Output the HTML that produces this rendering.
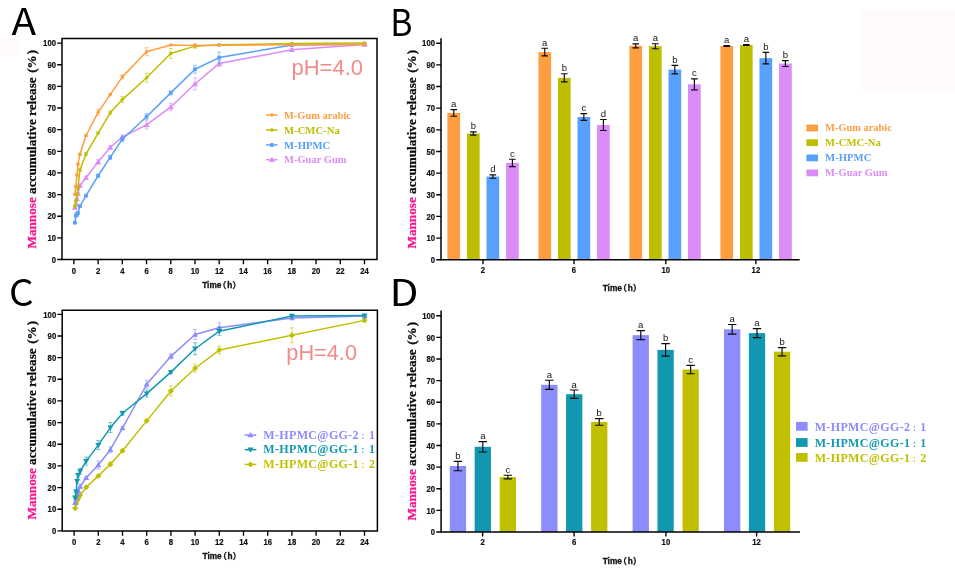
<!DOCTYPE html>
<html lang="en"><head><meta charset="utf-8"><title>Mannose accumulative release</title>
<style>html,body{margin:0;padding:0;background:#fff}body{width:955px;height:573px;overflow:hidden}svg{display:block}</style>
</head><body>
<svg width="955" height="573" viewBox="0 0 955 573">
<rect width="955" height="573" fill="#fff"/>
<rect x="0" y="35" width="21.4" height="21" fill="#fffbfc"/>
<rect x="859.7" y="10" width="95.3" height="80.2" fill="#fffbfc"/>
<g font-family="Noto Sans CJK SC, Liberation Sans, sans-serif" font-size="37" fill="#000">
<text transform="translate(11.4,35.2) scale(1.096,1)">A</text>
<text transform="translate(390.3,35.5) scale(0.915,1)">B</text>
<text transform="translate(9.1,306) scale(1.04,1)">C</text>
<text transform="translate(389.5,305.5) scale(1.14,1)">D</text>
</g>
<path d="M74.9 206.56V208.56M72.9 206.56h4M72.9 208.56h4M75.92 203.32V205.32M73.92 203.32h4M73.92 205.32h4M76.93 197.91V199.91M74.93 197.91h4M74.93 199.91h4M77.93 192.5V194.5M75.93 192.5h4M75.93 194.5h4M79.95 184.49V186.49M77.95 184.49h4M77.95 186.49h4M86.01 176.2V179.2M84.01 176.2h4M84.01 179.2h4M98.12 159.4V164.4M96.12 159.4h4M96.12 164.4h4M110.22 145.4V149.4M108.22 145.4h4M108.22 149.4h4M122.33 135.02V139.02M120.33 135.02h4M120.33 139.02h4M146.55 120.9V128.9M144.55 120.9h4M144.55 128.9h4M170.76 103.44V110.44M168.76 103.44h4M168.76 110.44h4M194.98 78V90M192.98 78h4M192.98 90h4M219.2 60.44V66.44M217.2 60.44h4M217.2 66.44h4M291.84 48.81V50.81M289.84 48.81h4M289.84 50.81h4M364.49 44.11V45.11M362.49 44.11h4M362.49 45.11h4" stroke="#dc8cf7" stroke-width="0.7" fill="none" opacity="0.85"/>
<polyline points="74.9,207.56 75.92,204.32 76.93,198.91 77.93,193.5 79.95,185.49 86.01,177.7 98.12,161.9 110.22,147.4 122.33,137.02 146.55,124.9 170.76,106.94 194.98,84 219.2,63.44 291.84,49.81 364.49,44.61" fill="none" stroke="#dc8cf7" stroke-width="1.5" stroke-linejoin="round"/>
<path d="M74.9 204.56L77.9 209.76H71.9Z" fill="#dc8cf7"/><path d="M75.92 201.32L78.92 206.52H72.92Z" fill="#dc8cf7"/><path d="M76.93 195.91L79.93 201.11H73.93Z" fill="#dc8cf7"/><path d="M77.93 190.5L80.93 195.7H74.93Z" fill="#dc8cf7"/><path d="M79.95 182.49L82.95 187.69H76.95Z" fill="#dc8cf7"/><path d="M86.01 174.7L89.01 179.9H83.01Z" fill="#dc8cf7"/><path d="M98.12 158.9L101.12 164.1H95.12Z" fill="#dc8cf7"/><path d="M110.22 144.4L113.22 149.6H107.22Z" fill="#dc8cf7"/><path d="M122.33 134.02L125.33 139.22H119.33Z" fill="#dc8cf7"/><path d="M146.55 121.9L149.55 127.1H143.55Z" fill="#dc8cf7"/><path d="M170.76 103.94L173.76 109.14H167.76Z" fill="#dc8cf7"/><path d="M194.98 81L197.98 86.2H191.98Z" fill="#dc8cf7"/><path d="M219.2 60.44L222.2 65.64H216.2Z" fill="#dc8cf7"/><path d="M291.84 46.81L294.84 52.01H288.84Z" fill="#dc8cf7"/><path d="M364.49 41.61L367.49 46.81H361.49Z" fill="#dc8cf7"/>
<path d="M74.9 222.21V223.21M72.9 222.21h4M72.9 223.21h4M75.92 214.57V216.57M73.92 214.57h4M73.92 216.57h4M76.93 212.99V215.99M74.93 212.99h4M74.93 215.99h4M77.93 211.97V213.97M75.93 211.97h4M75.93 213.97h4M79.95 205.05V207.05M77.95 205.05h4M77.95 207.05h4M86.01 194.66V196.66M84.01 194.66h4M84.01 196.66h4M98.12 174.25V177.25M96.12 174.25h4M96.12 177.25h4M110.22 155.36V159.36M108.22 155.36h4M108.22 159.36h4M122.33 136.68V141.68M120.33 136.68h4M120.33 141.68h4M146.55 113.68V119.68M144.55 113.68h4M144.55 119.68h4M170.76 90.87V94.87M168.76 90.87h4M168.76 94.87h4M194.98 65.28V73.28M192.98 65.28h4M192.98 73.28h4M219.2 52.1V63.1M217.2 52.1h4M217.2 63.1h4M291.84 44.05V46.05M289.84 44.05h4M289.84 46.05h4M364.49 43.68V44.68M362.49 43.68h4M362.49 44.68h4" stroke="#57a0fb" stroke-width="0.7" fill="none" opacity="0.85"/>
<polyline points="74.9,222.71 75.92,215.57 76.93,214.49 77.93,212.97 79.95,206.05 86.01,195.66 98.12,175.75 110.22,157.36 122.33,139.18 146.55,116.68 170.76,92.87 194.98,69.28 219.2,57.6 291.84,45.05 364.49,44.18" fill="none" stroke="#57a0fb" stroke-width="1.5" stroke-linejoin="round"/>
<rect x="73.05" y="220.86" width="3.7" height="3.7" fill="#57a0fb"/><rect x="74.07" y="213.72" width="3.7" height="3.7" fill="#57a0fb"/><rect x="75.08" y="212.64" width="3.7" height="3.7" fill="#57a0fb"/><rect x="76.08" y="211.12" width="3.7" height="3.7" fill="#57a0fb"/><rect x="78.1" y="204.2" width="3.7" height="3.7" fill="#57a0fb"/><rect x="84.16" y="193.81" width="3.7" height="3.7" fill="#57a0fb"/><rect x="96.27" y="173.9" width="3.7" height="3.7" fill="#57a0fb"/><rect x="108.37" y="155.51" width="3.7" height="3.7" fill="#57a0fb"/><rect x="120.48" y="137.33" width="3.7" height="3.7" fill="#57a0fb"/><rect x="144.7" y="114.83" width="3.7" height="3.7" fill="#57a0fb"/><rect x="168.91" y="91.02" width="3.7" height="3.7" fill="#57a0fb"/><rect x="193.13" y="67.43" width="3.7" height="3.7" fill="#57a0fb"/><rect x="217.35" y="55.75" width="3.7" height="3.7" fill="#57a0fb"/><rect x="289.99" y="43.2" width="3.7" height="3.7" fill="#57a0fb"/><rect x="362.64" y="42.33" width="3.7" height="3.7" fill="#57a0fb"/>
<path d="M74.9 205.98V206.98M72.9 205.98h4M72.9 206.98h4M75.92 200.07V202.07M73.92 200.07h4M73.92 202.07h4M76.93 193.58V195.58M74.93 193.58h4M74.93 195.58h4M77.93 187.09V189.09M75.93 187.09h4M75.93 189.09h4M79.95 168.19V171.19M77.95 168.19h4M77.95 171.19h4M86.01 152.61V155.61M84.01 152.61h4M84.01 155.61h4M98.12 132.12V134.12M96.12 132.12h4M96.12 134.12h4M110.22 110.78V114.78M108.22 110.78h4M108.22 114.78h4M122.33 96.58V102.58M120.33 96.58h4M120.33 102.58h4M146.55 73.32V82.12M144.55 73.32h4M144.55 82.12h4M170.76 48.49V58.49M168.76 48.49h4M168.76 58.49h4M194.98 44.13V48.13M192.98 44.13h4M192.98 48.13h4M219.2 44.33V45.33M217.2 44.33h4M217.2 45.33h4M291.84 43.03V44.03M289.84 43.03h4M289.84 44.03h4M364.49 42.6V43.6M362.49 42.6h4M362.49 43.6h4" stroke="#bebe00" stroke-width="0.7" fill="none" opacity="0.85"/>
<polyline points="74.9,206.48 75.92,201.07 76.93,194.58 77.93,188.09 79.95,169.69 86.01,154.11 98.12,133.12 110.22,112.78 122.33,99.58 146.55,77.72 170.76,53.49 194.98,46.13 219.2,44.83 291.84,43.53 364.49,43.1" fill="none" stroke="#bebe00" stroke-width="1.5" stroke-linejoin="round"/>
<circle cx="74.9" cy="206.48" r="1.75" fill="#bebe00"/><circle cx="75.92" cy="201.07" r="1.75" fill="#bebe00"/><circle cx="76.93" cy="194.58" r="1.75" fill="#bebe00"/><circle cx="77.93" cy="188.09" r="1.75" fill="#bebe00"/><circle cx="79.95" cy="169.69" r="1.75" fill="#bebe00"/><circle cx="86.01" cy="154.11" r="1.75" fill="#bebe00"/><circle cx="98.12" cy="133.12" r="1.75" fill="#bebe00"/><circle cx="110.22" cy="112.78" r="1.75" fill="#bebe00"/><circle cx="122.33" cy="99.58" r="1.75" fill="#bebe00"/><circle cx="146.55" cy="77.72" r="1.75" fill="#bebe00"/><circle cx="170.76" cy="53.49" r="1.75" fill="#bebe00"/><circle cx="194.98" cy="46.13" r="1.75" fill="#bebe00"/><circle cx="219.2" cy="44.83" r="1.75" fill="#bebe00"/><circle cx="291.84" cy="43.53" r="1.75" fill="#bebe00"/><circle cx="364.49" cy="43.1" r="1.75" fill="#bebe00"/>
<path d="M74.9 193.65V194.65M72.9 193.65h4M72.9 194.65h4M75.92 185.36V187.36M73.92 185.36h4M73.92 187.36h4M76.93 174.1V176.1M74.93 174.1h4M74.93 176.1h4M77.93 163.07V165.07M75.93 163.07h4M75.93 165.07h4M79.95 153.33V155.33M77.95 153.33h4M77.95 155.33h4M86.01 134.5V136.5M84.01 134.5h4M84.01 136.5h4M98.12 109.35V115.35M96.12 109.35h4M96.12 115.35h4M110.22 93.6V95.6M108.22 93.6h4M108.22 95.6h4M122.33 74.86V78.86M120.33 74.86h4M120.33 78.86h4M146.55 47.76V55.76M144.55 47.76h4M144.55 55.76h4M170.76 44.55V45.55M168.76 44.55h4M168.76 45.55h4M194.98 43.98V46.98M192.98 43.98h4M192.98 46.98h4M219.2 44.76V45.76M217.2 44.76h4M217.2 45.76h4M291.84 44.33V45.33M289.84 44.33h4M289.84 45.33h4M364.49 43.9V44.9M362.49 43.9h4M362.49 44.9h4" stroke="#fd9f41" stroke-width="0.7" fill="none" opacity="0.85"/>
<polyline points="74.9,194.15 75.92,186.36 76.93,175.1 77.93,164.07 79.95,154.33 86.01,135.5 98.12,112.35 110.22,94.6 122.33,76.86 146.55,51.76 170.76,45.05 194.98,45.48 219.2,45.26 291.84,44.83 364.49,44.4" fill="none" stroke="#fd9f41" stroke-width="1.5" stroke-linejoin="round"/>
<circle cx="74.9" cy="194.15" r="1.75" fill="#fd9f41"/><circle cx="75.92" cy="186.36" r="1.75" fill="#fd9f41"/><circle cx="76.93" cy="175.1" r="1.75" fill="#fd9f41"/><circle cx="77.93" cy="164.07" r="1.75" fill="#fd9f41"/><circle cx="79.95" cy="154.33" r="1.75" fill="#fd9f41"/><circle cx="86.01" cy="135.5" r="1.75" fill="#fd9f41"/><circle cx="98.12" cy="112.35" r="1.75" fill="#fd9f41"/><circle cx="110.22" cy="94.6" r="1.75" fill="#fd9f41"/><circle cx="122.33" cy="76.86" r="1.75" fill="#fd9f41"/><circle cx="146.55" cy="51.76" r="1.75" fill="#fd9f41"/><circle cx="170.76" cy="45.05" r="1.75" fill="#fd9f41"/><circle cx="194.98" cy="45.48" r="1.75" fill="#fd9f41"/><circle cx="219.2" cy="45.26" r="1.75" fill="#fd9f41"/><circle cx="291.84" cy="44.83" r="1.75" fill="#fd9f41"/><circle cx="364.49" cy="44.4" r="1.75" fill="#fd9f41"/>
<path d="M62 259.5V38.6H377V259.5Z" fill="none" stroke="#000" stroke-width="1.5"/>
<path d="M57.2 259.5H62M57.2 237.86H62M57.2 216.22H62M57.2 194.58H62M57.2 172.94H62M57.2 151.3H62M57.2 129.66H62M57.2 108.02H62M57.2 86.38H62M57.2 64.74H62M57.2 43.1H62M73.9 259.5v4.8M98.12 259.5v4.8M122.33 259.5v4.8M146.55 259.5v4.8M170.76 259.5v4.8M194.98 259.5v4.8M219.2 259.5v4.8M243.41 259.5v4.8M267.63 259.5v4.8M291.84 259.5v4.8M316.06 259.5v4.8M340.28 259.5v4.8M364.49 259.5v4.8" stroke="#000" stroke-width="1.35" fill="none"/>
<g font-family="Liberation Sans, Arial, sans-serif" font-weight="bold" font-size="8.3" fill="#111" stroke="#111" stroke-width="0.2">
<text x="56" y="262.7" text-anchor="end" textLength="4.29" lengthAdjust="spacingAndGlyphs">0</text>
<text x="56" y="241.06" text-anchor="end" textLength="8.58" lengthAdjust="spacingAndGlyphs">10</text>
<text x="56" y="219.42" text-anchor="end" textLength="8.58" lengthAdjust="spacingAndGlyphs">20</text>
<text x="56" y="197.78" text-anchor="end" textLength="8.58" lengthAdjust="spacingAndGlyphs">30</text>
<text x="56" y="176.14" text-anchor="end" textLength="8.58" lengthAdjust="spacingAndGlyphs">40</text>
<text x="56" y="154.5" text-anchor="end" textLength="8.58" lengthAdjust="spacingAndGlyphs">50</text>
<text x="56" y="132.86" text-anchor="end" textLength="8.58" lengthAdjust="spacingAndGlyphs">60</text>
<text x="56" y="111.22" text-anchor="end" textLength="8.58" lengthAdjust="spacingAndGlyphs">70</text>
<text x="56" y="89.58" text-anchor="end" textLength="8.58" lengthAdjust="spacingAndGlyphs">80</text>
<text x="56" y="67.94" text-anchor="end" textLength="8.58" lengthAdjust="spacingAndGlyphs">90</text>
<text x="56" y="46.3" text-anchor="end" textLength="12.88" lengthAdjust="spacingAndGlyphs">100</text>
<text x="73.9" y="273.8" text-anchor="middle" textLength="4.29" lengthAdjust="spacingAndGlyphs">0</text>
<text x="98.12" y="273.8" text-anchor="middle" textLength="4.29" lengthAdjust="spacingAndGlyphs">2</text>
<text x="122.33" y="273.8" text-anchor="middle" textLength="4.29" lengthAdjust="spacingAndGlyphs">4</text>
<text x="146.55" y="273.8" text-anchor="middle" textLength="4.29" lengthAdjust="spacingAndGlyphs">6</text>
<text x="170.76" y="273.8" text-anchor="middle" textLength="4.29" lengthAdjust="spacingAndGlyphs">8</text>
<text x="194.98" y="273.8" text-anchor="middle" textLength="8.58" lengthAdjust="spacingAndGlyphs">10</text>
<text x="219.2" y="273.8" text-anchor="middle" textLength="8.58" lengthAdjust="spacingAndGlyphs">12</text>
<text x="243.41" y="273.8" text-anchor="middle" textLength="8.58" lengthAdjust="spacingAndGlyphs">14</text>
<text x="267.63" y="273.8" text-anchor="middle" textLength="8.58" lengthAdjust="spacingAndGlyphs">16</text>
<text x="291.84" y="273.8" text-anchor="middle" textLength="8.58" lengthAdjust="spacingAndGlyphs">18</text>
<text x="316.06" y="273.8" text-anchor="middle" textLength="8.58" lengthAdjust="spacingAndGlyphs">20</text>
<text x="340.28" y="273.8" text-anchor="middle" textLength="8.58" lengthAdjust="spacingAndGlyphs">22</text>
<text x="364.49" y="273.8" text-anchor="middle" textLength="8.58" lengthAdjust="spacingAndGlyphs">24</text>
</g>
<text y="287.9" font-family="Liberation Sans, Noto Sans CJK SC, sans-serif" font-weight="bold" font-size="8.3" fill="#111" stroke="#111" stroke-width="0.3"><tspan x="202.2">Time</tspan><tspan x="218.1">（</tspan><tspan x="227.2">h</tspan><tspan x="232.4">）</tspan></text>
<text x="291.5" y="74.9" font-family="Liberation Sans, Arial, sans-serif" font-size="21.6" textLength="71.5" lengthAdjust="spacingAndGlyphs" fill="#f48a8a">pH=4.0</text>
<text transform="translate(36,248.5) rotate(-90)" font-family="Liberation Serif, Times New Roman, serif" font-weight="bold" font-size="13.2" fill="#0a0a0a" stroke="#0a0a0a" stroke-width="0.25"><tspan fill="#fa1590" stroke="#fa1590">Mannose</tspan> accumulative release <tspan dx="1.2">(%</tspan><tspan dx="-2.4"> )</tspan></text>
<path d="M266.1 115.1H277.6" stroke="#fd9f41" stroke-width="1.5"/><circle cx="271.9" cy="115.1" r="1.75" fill="#fd9f41"/>
<text x="284" y="119.1" font-family="Liberation Serif, Times New Roman, serif" font-weight="bold" font-size="10.4" textLength="67" lengthAdjust="spacingAndGlyphs" fill="#fd9f41">M-Gum arabic</text>
<path d="M266.1 130H277.6" stroke="#bebe00" stroke-width="1.5"/><circle cx="271.9" cy="130" r="1.75" fill="#bebe00"/>
<text x="284" y="133.7" font-family="Liberation Serif, Times New Roman, serif" font-weight="bold" font-size="10.4" textLength="55.8" lengthAdjust="spacingAndGlyphs" fill="#bebe00">M-CMC-Na</text>
<path d="M266.1 145H277.6" stroke="#57a0fb" stroke-width="1.5"/><rect x="270.05" y="143.15" width="3.7" height="3.7" fill="#57a0fb"/>
<text x="284" y="148.5" font-family="Liberation Serif, Times New Roman, serif" font-weight="bold" font-size="10.4" textLength="46.3" lengthAdjust="spacingAndGlyphs" fill="#57a0fb">M-HPMC</text>
<path d="M266.1 159.7H277.6" stroke="#dc8cf7" stroke-width="1.5"/><path d="M271.9 156.7L274.9 161.9H268.9Z" fill="#dc8cf7"/>
<text x="284" y="163.1" font-family="Liberation Serif, Times New Roman, serif" font-weight="bold" font-size="10.4" textLength="62.5" lengthAdjust="spacingAndGlyphs" fill="#dc8cf7">M-Guar Gum</text>
<rect x="447.4" y="112.91" width="12.7" height="146.79" fill="#fd9f41"/>
<path d="M453.75 109.61V116.21M450.45 109.61h6.6M450.45 116.21h6.6" stroke="#0a0a0a" stroke-width="1.15" fill="none"/>
<text x="453.75" y="107.21" font-family="Liberation Sans, Arial, sans-serif" font-size="9.5" text-anchor="middle" fill="#111">a</text>
<rect x="466.95" y="133.48" width="12.7" height="126.22" fill="#bebe00"/>
<path d="M473.3 131.88V135.08M470 131.88h6.6M470 135.08h6.6" stroke="#0a0a0a" stroke-width="1.15" fill="none"/>
<text x="473.3" y="129.48" font-family="Liberation Sans, Arial, sans-serif" font-size="9.5" text-anchor="middle" fill="#111">b</text>
<rect x="486.5" y="176.56" width="12.7" height="83.14" fill="#57a0fb"/>
<path d="M492.85 174.86V178.26M489.55 174.86h6.6M489.55 178.26h6.6" stroke="#0a0a0a" stroke-width="1.15" fill="none"/>
<text x="492.85" y="172.46" font-family="Liberation Sans, Arial, sans-serif" font-size="9.5" text-anchor="middle" fill="#111">d</text>
<rect x="506.05" y="162.92" width="12.7" height="96.78" fill="#dc8cf7"/>
<path d="M512.4 159.22V166.62M509.1 159.22h6.6M509.1 166.62h6.6" stroke="#0a0a0a" stroke-width="1.15" fill="none"/>
<text x="512.4" y="156.82" font-family="Liberation Sans, Arial, sans-serif" font-size="9.5" text-anchor="middle" fill="#111">c</text>
<rect x="538.4" y="52.08" width="12.7" height="207.62" fill="#fd9f41"/>
<path d="M544.75 48.28V55.88M541.45 48.28h6.6M541.45 55.88h6.6" stroke="#0a0a0a" stroke-width="1.15" fill="none"/>
<text x="544.75" y="45.88" font-family="Liberation Sans, Arial, sans-serif" font-size="9.5" text-anchor="middle" fill="#111">a</text>
<rect x="557.95" y="77.84" width="12.7" height="181.86" fill="#bebe00"/>
<path d="M564.3 73.74V81.94M561 73.74h6.6M561 81.94h6.6" stroke="#0a0a0a" stroke-width="1.15" fill="none"/>
<text x="564.3" y="71.34" font-family="Liberation Sans, Arial, sans-serif" font-size="9.5" text-anchor="middle" fill="#111">b</text>
<rect x="577.5" y="117.03" width="12.7" height="142.67" fill="#57a0fb"/>
<path d="M583.85 113.63V120.43M580.55 113.63h6.6M580.55 120.43h6.6" stroke="#0a0a0a" stroke-width="1.15" fill="none"/>
<text x="583.85" y="111.23" font-family="Liberation Sans, Arial, sans-serif" font-size="9.5" text-anchor="middle" fill="#111">c</text>
<rect x="597.05" y="125.04" width="12.7" height="134.66" fill="#dc8cf7"/>
<path d="M603.4 119.54V130.54M600.1 119.54h6.6M600.1 130.54h6.6" stroke="#0a0a0a" stroke-width="1.15" fill="none"/>
<text x="603.4" y="117.14" font-family="Liberation Sans, Arial, sans-serif" font-size="9.5" text-anchor="middle" fill="#111">d</text>
<rect x="629.4" y="45.8" width="12.7" height="213.9" fill="#fd9f41"/>
<path d="M635.75 43.8V47.8M632.45 43.8h6.6M632.45 47.8h6.6" stroke="#0a0a0a" stroke-width="1.15" fill="none"/>
<text x="635.75" y="41.4" font-family="Liberation Sans, Arial, sans-serif" font-size="9.5" text-anchor="middle" fill="#111">a</text>
<rect x="648.95" y="46.23" width="12.7" height="213.47" fill="#bebe00"/>
<path d="M655.3 43.73V48.73M652 43.73h6.6M652 48.73h6.6" stroke="#0a0a0a" stroke-width="1.15" fill="none"/>
<text x="655.3" y="41.33" font-family="Liberation Sans, Arial, sans-serif" font-size="9.5" text-anchor="middle" fill="#111">a</text>
<rect x="668.5" y="69.61" width="12.7" height="190.09" fill="#57a0fb"/>
<path d="M674.85 65.41V73.81M671.55 65.41h6.6M671.55 73.81h6.6" stroke="#0a0a0a" stroke-width="1.15" fill="none"/>
<text x="674.85" y="63.01" font-family="Liberation Sans, Arial, sans-serif" font-size="9.5" text-anchor="middle" fill="#111">b</text>
<rect x="688.05" y="84.33" width="12.7" height="175.37" fill="#dc8cf7"/>
<path d="M694.4 78.83V89.83M691.1 78.83h6.6M691.1 89.83h6.6" stroke="#0a0a0a" stroke-width="1.15" fill="none"/>
<text x="694.4" y="76.43" font-family="Liberation Sans, Arial, sans-serif" font-size="9.5" text-anchor="middle" fill="#111">c</text>
<rect x="720.4" y="46.01" width="12.7" height="213.69" fill="#fd9f41"/>
<path d="M726.75 45.51V46.51M723.45 45.51h6.6M723.45 46.51h6.6" stroke="#0a0a0a" stroke-width="1.15" fill="none"/>
<text x="726.75" y="43.11" font-family="Liberation Sans, Arial, sans-serif" font-size="9.5" text-anchor="middle" fill="#111">a</text>
<rect x="739.95" y="44.93" width="12.7" height="214.77" fill="#bebe00"/>
<path d="M746.3 44.53V45.33M743 44.53h6.6M743 45.33h6.6" stroke="#0a0a0a" stroke-width="1.15" fill="none"/>
<text x="746.3" y="42.13" font-family="Liberation Sans, Arial, sans-serif" font-size="9.5" text-anchor="middle" fill="#111">a</text>
<rect x="759.5" y="58.14" width="12.7" height="201.56" fill="#57a0fb"/>
<path d="M765.85 52.34V63.94M762.55 52.34h6.6M762.55 63.94h6.6" stroke="#0a0a0a" stroke-width="1.15" fill="none"/>
<text x="765.85" y="49.94" font-family="Liberation Sans, Arial, sans-serif" font-size="9.5" text-anchor="middle" fill="#111">b</text>
<rect x="779.05" y="63.55" width="12.7" height="196.15" fill="#dc8cf7"/>
<path d="M785.4 60.65V66.45M782.1 60.65h6.6M782.1 66.45h6.6" stroke="#0a0a0a" stroke-width="1.15" fill="none"/>
<text x="785.4" y="58.25" font-family="Liberation Sans, Arial, sans-serif" font-size="9.5" text-anchor="middle" fill="#111">b</text>
<path d="M441 38.2V259.7H799.7" fill="none" stroke="#000" stroke-width="1.5"/>
<path d="M436.2 259.7H441M436.2 238.05H441M436.2 216.4H441M436.2 194.75H441M436.2 173.1H441M436.2 151.45H441M436.2 129.8H441M436.2 108.15H441M436.2 86.5H441M436.2 64.85H441M436.2 43.2H441M483 259.7v4.6M574 259.7v4.6M665.8 259.7v4.6M755.9 259.7v4.6" stroke="#000" stroke-width="1.35" fill="none"/>
<g font-family="Liberation Sans, Arial, sans-serif" font-weight="bold" font-size="8.3" fill="#111" stroke="#111" stroke-width="0.2">
<text x="435" y="262.9" text-anchor="end" textLength="4.29" lengthAdjust="spacingAndGlyphs">0</text>
<text x="435" y="241.25" text-anchor="end" textLength="8.58" lengthAdjust="spacingAndGlyphs">10</text>
<text x="435" y="219.6" text-anchor="end" textLength="8.58" lengthAdjust="spacingAndGlyphs">20</text>
<text x="435" y="197.95" text-anchor="end" textLength="8.58" lengthAdjust="spacingAndGlyphs">30</text>
<text x="435" y="176.3" text-anchor="end" textLength="8.58" lengthAdjust="spacingAndGlyphs">40</text>
<text x="435" y="154.65" text-anchor="end" textLength="8.58" lengthAdjust="spacingAndGlyphs">50</text>
<text x="435" y="133" text-anchor="end" textLength="8.58" lengthAdjust="spacingAndGlyphs">60</text>
<text x="435" y="111.35" text-anchor="end" textLength="8.58" lengthAdjust="spacingAndGlyphs">70</text>
<text x="435" y="89.7" text-anchor="end" textLength="8.58" lengthAdjust="spacingAndGlyphs">80</text>
<text x="435" y="68.05" text-anchor="end" textLength="8.58" lengthAdjust="spacingAndGlyphs">90</text>
<text x="435" y="46.4" text-anchor="end" textLength="12.88" lengthAdjust="spacingAndGlyphs">100</text>
<text x="483" y="273.2" text-anchor="middle" textLength="4.29" lengthAdjust="spacingAndGlyphs">2</text>
<text x="574" y="273.2" text-anchor="middle" textLength="4.29" lengthAdjust="spacingAndGlyphs">6</text>
<text x="665.8" y="273.2" text-anchor="middle" textLength="8.58" lengthAdjust="spacingAndGlyphs">10</text>
<text x="755.9" y="273.2" text-anchor="middle" textLength="8.58" lengthAdjust="spacingAndGlyphs">12</text>
</g>
<text y="290.5" font-family="Liberation Sans, Noto Sans CJK SC, sans-serif" font-weight="bold" font-size="8.3" fill="#111" stroke="#111" stroke-width="0.3"><tspan x="602.7">Time</tspan><tspan x="618.6">（</tspan><tspan x="627.7">h</tspan><tspan x="632.9">）</tspan></text>
<text transform="translate(416,248.5) rotate(-90)" font-family="Liberation Serif, Times New Roman, serif" font-weight="bold" font-size="13.2" fill="#0a0a0a" stroke="#0a0a0a" stroke-width="0.25"><tspan fill="#fa1590" stroke="#fa1590">Mannose</tspan> accumulative release <tspan dx="1.2">(%</tspan><tspan dx="-2.4"> )</tspan></text>
<rect x="806.4" y="124.6" width="11.6" height="6.8" fill="#fd9f41"/>
<text x="825.1" y="131.4" font-family="Liberation Serif, Times New Roman, serif" font-weight="bold" font-size="10.4" textLength="66.8" lengthAdjust="spacingAndGlyphs" fill="#fd9f41">M-Gum arabic</text>
<rect x="806.4" y="139.3" width="11.6" height="6.8" fill="#bebe00"/>
<text x="825.1" y="146.2" font-family="Liberation Serif, Times New Roman, serif" font-weight="bold" font-size="10.4" textLength="55.8" lengthAdjust="spacingAndGlyphs" fill="#bebe00">M-CMC-Na</text>
<rect x="806.4" y="154.5" width="11.6" height="6.8" fill="#57a0fb"/>
<text x="825.1" y="161.3" font-family="Liberation Serif, Times New Roman, serif" font-weight="bold" font-size="10.4" textLength="46.3" lengthAdjust="spacingAndGlyphs" fill="#57a0fb">M-HPMC</text>
<rect x="806.4" y="169.5" width="11.6" height="6.8" fill="#dc8cf7"/>
<text x="825.1" y="176.3" font-family="Liberation Serif, Times New Roman, serif" font-weight="bold" font-size="10.4" textLength="62.5" lengthAdjust="spacingAndGlyphs" fill="#dc8cf7">M-Guar Gum</text>
<path d="M75.1 507.66V508.66M73.1 507.66h4M73.1 508.66h4M76.12 503.32V504.32M74.12 503.32h4M74.12 504.32h4M77.12 499.58V501.58M75.12 499.58h4M75.12 501.58h4M78.13 497.41V499.41M76.13 497.41h4M76.13 499.41h4M80.15 494.16V496.16M78.15 494.16h4M78.15 496.16h4M86.2 486.36V488.36M84.2 486.36h4M84.2 488.36h4M98.3 474.88V476.88M96.3 474.88h4M96.3 476.88h4M110.4 462.19V466.19M108.4 462.19h4M108.4 466.19h4M122.5 449.26V452.26M120.5 449.26h4M120.5 452.26h4M146.7 419.37V422.37M144.7 419.37h4M144.7 422.37h4M170.9 385.98V395.98M168.9 385.98h4M168.9 395.98h4M195.1 364.23V372.23M193.1 364.23h4M193.1 372.23h4M219.3 346.04V354.04M217.3 346.04h4M217.3 354.04h4M291.9 327.81V342.81M289.9 327.81h4M289.9 342.81h4M364.5 318.86V321.86M362.5 318.86h4M362.5 321.86h4" stroke="#c0c000" stroke-width="0.7" fill="none" opacity="0.85"/>
<polyline points="75.1,508.16 76.12,503.82 77.12,500.58 78.13,498.41 80.15,495.16 86.2,487.36 98.3,475.88 110.4,464.19 122.5,450.76 146.7,420.87 170.9,390.98 195.1,368.23 219.3,350.04 291.9,335.31 364.5,320.36" fill="none" stroke="#c0c000" stroke-width="1.5" stroke-linejoin="round"/>
<path d="M75.1 505.16L78.1 508.16L75.1 511.16L72.1 508.16Z" fill="#c0c000"/><path d="M76.12 500.82L79.12 503.82L76.12 506.82L73.12 503.82Z" fill="#c0c000"/><path d="M77.12 497.58L80.12 500.58L77.12 503.58L74.12 500.58Z" fill="#c0c000"/><path d="M78.13 495.41L81.13 498.41L78.13 501.41L75.13 498.41Z" fill="#c0c000"/><path d="M80.15 492.16L83.15 495.16L80.15 498.16L77.15 495.16Z" fill="#c0c000"/><path d="M86.2 484.36L89.2 487.36L86.2 490.36L83.2 487.36Z" fill="#c0c000"/><path d="M98.3 472.88L101.3 475.88L98.3 478.88L95.3 475.88Z" fill="#c0c000"/><path d="M110.4 461.19L113.4 464.19L110.4 467.19L107.4 464.19Z" fill="#c0c000"/><path d="M122.5 447.76L125.5 450.76L122.5 453.76L119.5 450.76Z" fill="#c0c000"/><path d="M146.7 417.87L149.7 420.87L146.7 423.87L143.7 420.87Z" fill="#c0c000"/><path d="M170.9 387.98L173.9 390.98L170.9 393.98L167.9 390.98Z" fill="#c0c000"/><path d="M195.1 365.23L198.1 368.23L195.1 371.23L192.1 368.23Z" fill="#c0c000"/><path d="M219.3 347.04L222.3 350.04L219.3 353.04L216.3 350.04Z" fill="#c0c000"/><path d="M291.9 332.31L294.9 335.31L291.9 338.31L288.9 335.31Z" fill="#c0c000"/><path d="M364.5 317.36L367.5 320.36L364.5 323.36L361.5 320.36Z" fill="#c0c000"/>
<path d="M75.1 502.24V503.24M73.1 502.24h4M73.1 503.24h4M76.12 497.41V499.41M74.12 497.41h4M74.12 499.41h4M77.12 493.08V495.08M75.12 493.08h4M75.12 495.08h4M78.13 489.83V491.83M76.13 489.83h4M76.13 491.83h4M80.15 485V488M78.15 485h4M78.15 488h4M86.2 476.33V479.33M84.2 476.33h4M84.2 479.33h4M98.3 461.05V469.05M96.3 461.05h4M96.3 469.05h4M110.4 446.67V452.67M108.4 446.67h4M108.4 452.67h4M122.5 426.51V429.51M120.5 426.51h4M120.5 429.51h4M146.7 380.26V388.26M144.7 380.26h4M144.7 388.26h4M170.9 353.82V358.82M168.9 353.82h4M168.9 358.82h4M195.1 329.44V339.44M193.1 329.44h4M193.1 339.44h4M219.3 322.73V332.73M217.3 322.73h4M217.3 332.73h4M291.9 316.98V318.98M289.9 316.98h4M289.9 318.98h4M364.5 315.53V316.53M362.5 315.53h4M362.5 316.53h4" stroke="#8c8cfc" stroke-width="0.7" fill="none" opacity="0.85"/>
<polyline points="75.1,502.74 76.12,498.41 77.12,494.08 78.13,490.83 80.15,486.5 86.2,477.83 98.3,465.05 110.4,449.67 122.5,428.01 146.7,384.26 170.9,356.32 195.1,334.44 219.3,327.73 291.9,317.98 364.5,316.03" fill="none" stroke="#8c8cfc" stroke-width="1.5" stroke-linejoin="round"/>
<path d="M75.1 499.74L78.1 504.94H72.1Z" fill="#8c8cfc"/><path d="M76.12 495.41L79.12 500.61H73.12Z" fill="#8c8cfc"/><path d="M77.12 491.08L80.12 496.28H74.12Z" fill="#8c8cfc"/><path d="M78.13 487.83L81.13 493.03H75.13Z" fill="#8c8cfc"/><path d="M80.15 483.5L83.15 488.7H77.15Z" fill="#8c8cfc"/><path d="M86.2 474.83L89.2 480.03H83.2Z" fill="#8c8cfc"/><path d="M98.3 462.05L101.3 467.25H95.3Z" fill="#8c8cfc"/><path d="M110.4 446.67L113.4 451.87H107.4Z" fill="#8c8cfc"/><path d="M122.5 425.01L125.5 430.21H119.5Z" fill="#8c8cfc"/><path d="M146.7 381.26L149.7 386.46H143.7Z" fill="#8c8cfc"/><path d="M170.9 353.32L173.9 358.52H167.9Z" fill="#8c8cfc"/><path d="M195.1 331.44L198.1 336.64H192.1Z" fill="#8c8cfc"/><path d="M219.3 324.73L222.3 329.93H216.3Z" fill="#8c8cfc"/><path d="M291.9 314.98L294.9 320.18H288.9Z" fill="#8c8cfc"/><path d="M364.5 313.03L367.5 318.23H361.5Z" fill="#8c8cfc"/>
<path d="M75.1 497.26V498.26M73.1 497.26h4M73.1 498.26h4M76.12 490.7V492.7M74.12 490.7h4M74.12 492.7h4M77.12 479.3V483.3M75.12 479.3h4M75.12 483.3h4M78.13 473.23V477.23M76.13 473.23h4M76.13 477.23h4M80.15 468.33V474.33M78.15 468.33h4M78.15 474.33h4M86.2 457.15V465.15M84.2 457.15h4M84.2 465.15h4M98.3 440.63V449.63M96.3 440.63h4M96.3 449.63h4M110.4 422.58V432.58M108.4 422.58h4M108.4 432.58h4M122.5 411.29V415.29M120.5 411.29h4M120.5 415.29h4M146.7 390.08V397.08M144.7 390.08h4M144.7 397.08h4M170.9 370.63V373.63M168.9 370.63h4M168.9 373.63h4M195.1 342.74V354.74M193.1 342.74h4M193.1 354.74h4M219.3 327.19V335.19M217.3 327.19h4M217.3 335.19h4M291.9 315.03V317.03M289.9 315.03h4M289.9 317.03h4M364.5 314.6V316.6M362.5 314.6h4M362.5 316.6h4" stroke="#1198b0" stroke-width="0.7" fill="none" opacity="0.85"/>
<polyline points="75.1,497.76 76.12,491.7 77.12,481.3 78.13,475.23 80.15,471.33 86.2,461.15 98.3,445.13 110.4,427.58 122.5,413.29 146.7,393.58 170.9,372.13 195.1,348.74 219.3,331.19 291.9,316.03 364.5,315.6" fill="none" stroke="#1198b0" stroke-width="1.5" stroke-linejoin="round"/>
<path d="M75.1 500.76L78.1 495.56H72.1Z" fill="#1198b0"/><path d="M76.12 494.7L79.12 489.5H73.12Z" fill="#1198b0"/><path d="M77.12 484.3L80.12 479.1H74.12Z" fill="#1198b0"/><path d="M78.13 478.23L81.13 473.03H75.13Z" fill="#1198b0"/><path d="M80.15 474.33L83.15 469.13H77.15Z" fill="#1198b0"/><path d="M86.2 464.15L89.2 458.95H83.2Z" fill="#1198b0"/><path d="M98.3 448.13L101.3 442.93H95.3Z" fill="#1198b0"/><path d="M110.4 430.58L113.4 425.38H107.4Z" fill="#1198b0"/><path d="M122.5 416.29L125.5 411.09H119.5Z" fill="#1198b0"/><path d="M146.7 396.58L149.7 391.38H143.7Z" fill="#1198b0"/><path d="M170.9 375.13L173.9 369.93H167.9Z" fill="#1198b0"/><path d="M195.1 351.74L198.1 346.54H192.1Z" fill="#1198b0"/><path d="M219.3 334.19L222.3 328.99H216.3Z" fill="#1198b0"/><path d="M291.9 319.03L294.9 313.83H288.9Z" fill="#1198b0"/><path d="M364.5 318.6L367.5 313.4H361.5Z" fill="#1198b0"/>
<path d="M62.2 530.9V310.2H377.4V530.9Z" fill="none" stroke="#000" stroke-width="1.5"/>
<path d="M57.4 530.9H62.2M57.4 509.24H62.2M57.4 487.58H62.2M57.4 465.92H62.2M57.4 444.26H62.2M57.4 422.6H62.2M57.4 400.94H62.2M57.4 379.28H62.2M57.4 357.62H62.2M57.4 335.96H62.2M57.4 314.3H62.2M74.1 530.9v4.8M98.3 530.9v4.8M122.5 530.9v4.8M146.7 530.9v4.8M170.9 530.9v4.8M195.1 530.9v4.8M219.3 530.9v4.8M243.5 530.9v4.8M267.7 530.9v4.8M291.9 530.9v4.8M316.1 530.9v4.8M340.3 530.9v4.8M364.5 530.9v4.8" stroke="#000" stroke-width="1.35" fill="none"/>
<g font-family="Liberation Sans, Arial, sans-serif" font-weight="bold" font-size="8.3" fill="#111" stroke="#111" stroke-width="0.2">
<text x="56.2" y="534.1" text-anchor="end" textLength="4.29" lengthAdjust="spacingAndGlyphs">0</text>
<text x="56.2" y="512.44" text-anchor="end" textLength="8.58" lengthAdjust="spacingAndGlyphs">10</text>
<text x="56.2" y="490.78" text-anchor="end" textLength="8.58" lengthAdjust="spacingAndGlyphs">20</text>
<text x="56.2" y="469.12" text-anchor="end" textLength="8.58" lengthAdjust="spacingAndGlyphs">30</text>
<text x="56.2" y="447.46" text-anchor="end" textLength="8.58" lengthAdjust="spacingAndGlyphs">40</text>
<text x="56.2" y="425.8" text-anchor="end" textLength="8.58" lengthAdjust="spacingAndGlyphs">50</text>
<text x="56.2" y="404.14" text-anchor="end" textLength="8.58" lengthAdjust="spacingAndGlyphs">60</text>
<text x="56.2" y="382.48" text-anchor="end" textLength="8.58" lengthAdjust="spacingAndGlyphs">70</text>
<text x="56.2" y="360.82" text-anchor="end" textLength="8.58" lengthAdjust="spacingAndGlyphs">80</text>
<text x="56.2" y="339.16" text-anchor="end" textLength="8.58" lengthAdjust="spacingAndGlyphs">90</text>
<text x="56.2" y="317.5" text-anchor="end" textLength="12.88" lengthAdjust="spacingAndGlyphs">100</text>
<text x="74.1" y="545.1" text-anchor="middle" textLength="4.29" lengthAdjust="spacingAndGlyphs">0</text>
<text x="98.3" y="545.1" text-anchor="middle" textLength="4.29" lengthAdjust="spacingAndGlyphs">2</text>
<text x="122.5" y="545.1" text-anchor="middle" textLength="4.29" lengthAdjust="spacingAndGlyphs">4</text>
<text x="146.7" y="545.1" text-anchor="middle" textLength="4.29" lengthAdjust="spacingAndGlyphs">6</text>
<text x="170.9" y="545.1" text-anchor="middle" textLength="4.29" lengthAdjust="spacingAndGlyphs">8</text>
<text x="195.1" y="545.1" text-anchor="middle" textLength="8.58" lengthAdjust="spacingAndGlyphs">10</text>
<text x="219.3" y="545.1" text-anchor="middle" textLength="8.58" lengthAdjust="spacingAndGlyphs">12</text>
<text x="243.5" y="545.1" text-anchor="middle" textLength="8.58" lengthAdjust="spacingAndGlyphs">14</text>
<text x="267.7" y="545.1" text-anchor="middle" textLength="8.58" lengthAdjust="spacingAndGlyphs">16</text>
<text x="291.9" y="545.1" text-anchor="middle" textLength="8.58" lengthAdjust="spacingAndGlyphs">18</text>
<text x="316.1" y="545.1" text-anchor="middle" textLength="8.58" lengthAdjust="spacingAndGlyphs">20</text>
<text x="340.3" y="545.1" text-anchor="middle" textLength="8.58" lengthAdjust="spacingAndGlyphs">22</text>
<text x="364.5" y="545.1" text-anchor="middle" textLength="8.58" lengthAdjust="spacingAndGlyphs">24</text>
</g>
<text y="558.9" font-family="Liberation Sans, Noto Sans CJK SC, sans-serif" font-weight="bold" font-size="8.3" fill="#111" stroke="#111" stroke-width="0.3"><tspan x="202.5">Time</tspan><tspan x="218.4">（</tspan><tspan x="227.5">h</tspan><tspan x="232.7">）</tspan></text>
<text x="286.3" y="360.3" font-family="Liberation Sans, Arial, sans-serif" font-size="21.6" textLength="70.7" lengthAdjust="spacingAndGlyphs" fill="#f48a8a">pH=4.0</text>
<text transform="translate(36,519.5) rotate(-90)" font-family="Liberation Serif, Times New Roman, serif" font-weight="bold" font-size="13.2" fill="#0a0a0a" stroke="#0a0a0a" stroke-width="0.25"><tspan fill="#fa1590" stroke="#fa1590">Mannose</tspan> accumulative release <tspan dx="1.2">(%</tspan><tspan dx="-2.4"> )</tspan></text>
<path d="M244.7 435.1H256.3" stroke="#8c8cfc" stroke-width="1.5"/><path d="M250.5 432.1L253.5 437.3H247.5Z" fill="#8c8cfc"/>
<text y="438.5" font-family="Liberation Serif, Noto Serif CJK SC, serif" font-weight="bold" font-size="12" fill="#8c8cfc"><tspan x="263.3" textLength="95.3" lengthAdjust="spacing">M-HPMC@GG-2</tspan><tspan x="360.8" font-size="8">：</tspan><tspan x="368.9">1</tspan></text>
<path d="M244.7 449.7H256.3" stroke="#1198b0" stroke-width="1.5"/><path d="M250.5 452.7L253.5 447.5H247.5Z" fill="#1198b0"/>
<text y="453.2" font-family="Liberation Serif, Noto Serif CJK SC, serif" font-weight="bold" font-size="12" fill="#1198b0"><tspan x="263.3" textLength="95.3" lengthAdjust="spacing">M-HPMC@GG-1</tspan><tspan x="360.8" font-size="8">：</tspan><tspan x="368.9">1</tspan></text>
<path d="M244.7 464.4H256.3" stroke="#c0c000" stroke-width="1.5"/><path d="M250.5 461.4L253.5 464.4L250.5 467.4L247.5 464.4Z" fill="#c0c000"/>
<text y="468.3" font-family="Liberation Serif, Noto Serif CJK SC, serif" font-weight="bold" font-size="12" fill="#c0c000"><tspan x="263.3" textLength="95.3" lengthAdjust="spacing">M-HPMC@GG-1</tspan><tspan x="360.8" font-size="8">：</tspan><tspan x="368.9">2</tspan></text>
<rect x="449.8" y="466.03" width="16.3" height="65.97" fill="#8c8cfc"/>
<path d="M457.95 461.33V470.73M453.71 461.33h8.48M453.71 470.73h8.48" stroke="#0a0a0a" stroke-width="1.15" fill="none"/>
<text x="457.95" y="458.93" font-family="Liberation Sans, Arial, sans-serif" font-size="9.5" text-anchor="middle" fill="#111">b</text>
<rect x="474.65" y="446.78" width="16.3" height="85.22" fill="#1198b0"/>
<path d="M482.8 441.58V451.98M478.56 441.58h8.48M478.56 451.98h8.48" stroke="#0a0a0a" stroke-width="1.15" fill="none"/>
<text x="482.8" y="439.18" font-family="Liberation Sans, Arial, sans-serif" font-size="9.5" text-anchor="middle" fill="#111">a</text>
<rect x="499.7" y="477.06" width="16.3" height="54.94" fill="#c0c000"/>
<path d="M507.85 475.26V478.86M503.61 475.26h8.48M503.61 478.86h8.48" stroke="#0a0a0a" stroke-width="1.15" fill="none"/>
<text x="507.85" y="472.86" font-family="Liberation Sans, Arial, sans-serif" font-size="9.5" text-anchor="middle" fill="#111">c</text>
<rect x="541.2" y="384.81" width="16.3" height="147.19" fill="#8c8cfc"/>
<path d="M549.35 380.21V389.41M545.11 380.21h8.48M545.11 389.41h8.48" stroke="#0a0a0a" stroke-width="1.15" fill="none"/>
<text x="549.35" y="377.81" font-family="Liberation Sans, Arial, sans-serif" font-size="9.5" text-anchor="middle" fill="#111">a</text>
<rect x="566.05" y="394.22" width="16.3" height="137.78" fill="#1198b0"/>
<path d="M574.2 390.02V398.42M569.96 390.02h8.48M569.96 398.42h8.48" stroke="#0a0a0a" stroke-width="1.15" fill="none"/>
<text x="574.2" y="387.62" font-family="Liberation Sans, Arial, sans-serif" font-size="9.5" text-anchor="middle" fill="#111">a</text>
<rect x="591.1" y="421.9" width="16.3" height="110.1" fill="#c0c000"/>
<path d="M599.25 418.6V425.2M595.01 418.6h8.48M595.01 425.2h8.48" stroke="#0a0a0a" stroke-width="1.15" fill="none"/>
<text x="599.25" y="416.2" font-family="Liberation Sans, Arial, sans-serif" font-size="9.5" text-anchor="middle" fill="#111">b</text>
<rect x="632.6" y="335.17" width="16.3" height="196.83" fill="#8c8cfc"/>
<path d="M640.75 330.67V339.67M636.51 330.67h8.48M636.51 339.67h8.48" stroke="#0a0a0a" stroke-width="1.15" fill="none"/>
<text x="640.75" y="328.27" font-family="Liberation Sans, Arial, sans-serif" font-size="9.5" text-anchor="middle" fill="#111">a</text>
<rect x="657.45" y="349.88" width="16.3" height="182.12" fill="#1198b0"/>
<path d="M665.6 343.68V356.08M661.36 343.68h8.48M661.36 356.08h8.48" stroke="#0a0a0a" stroke-width="1.15" fill="none"/>
<text x="665.6" y="341.28" font-family="Liberation Sans, Arial, sans-serif" font-size="9.5" text-anchor="middle" fill="#111">b</text>
<rect x="682.5" y="369.56" width="16.3" height="162.44" fill="#c0c000"/>
<path d="M690.65 365.36V373.76M686.41 365.36h8.48M686.41 373.76h8.48" stroke="#0a0a0a" stroke-width="1.15" fill="none"/>
<text x="690.65" y="362.96" font-family="Liberation Sans, Arial, sans-serif" font-size="9.5" text-anchor="middle" fill="#111">c</text>
<rect x="724" y="329.33" width="16.3" height="202.67" fill="#8c8cfc"/>
<path d="M732.15 324.53V334.13M727.91 324.53h8.48M727.91 334.13h8.48" stroke="#0a0a0a" stroke-width="1.15" fill="none"/>
<text x="732.15" y="322.13" font-family="Liberation Sans, Arial, sans-serif" font-size="9.5" text-anchor="middle" fill="#111">a</text>
<rect x="748.85" y="333.11" width="16.3" height="198.89" fill="#1198b0"/>
<path d="M757 328.61V337.61M752.76 328.61h8.48M752.76 337.61h8.48" stroke="#0a0a0a" stroke-width="1.15" fill="none"/>
<text x="757" y="326.21" font-family="Liberation Sans, Arial, sans-serif" font-size="9.5" text-anchor="middle" fill="#111">a</text>
<rect x="773.9" y="351.71" width="16.3" height="180.29" fill="#c0c000"/>
<path d="M782.05 347.61V355.81M777.81 347.61h8.48M777.81 355.81h8.48" stroke="#0a0a0a" stroke-width="1.15" fill="none"/>
<text x="782.05" y="345.21" font-family="Liberation Sans, Arial, sans-serif" font-size="9.5" text-anchor="middle" fill="#111">b</text>
<path d="M441.1 310.5V532H800" fill="none" stroke="#000" stroke-width="1.5"/>
<path d="M436.3 532H441.1M436.3 510.37H441.1M436.3 488.74H441.1M436.3 467.11H441.1M436.3 445.48H441.1M436.3 423.85H441.1M436.3 402.22H441.1M436.3 380.59H441.1M436.3 358.96H441.1M436.3 337.33H441.1M436.3 315.7H441.1M482.6 532v4.6M574.1 532v4.6M665.9 532v4.6M756.6 532v4.6" stroke="#000" stroke-width="1.35" fill="none"/>
<g font-family="Liberation Sans, Arial, sans-serif" font-weight="bold" font-size="8.3" fill="#111" stroke="#111" stroke-width="0.2">
<text x="435.1" y="535.2" text-anchor="end" textLength="4.29" lengthAdjust="spacingAndGlyphs">0</text>
<text x="435.1" y="513.57" text-anchor="end" textLength="8.58" lengthAdjust="spacingAndGlyphs">10</text>
<text x="435.1" y="491.94" text-anchor="end" textLength="8.58" lengthAdjust="spacingAndGlyphs">20</text>
<text x="435.1" y="470.31" text-anchor="end" textLength="8.58" lengthAdjust="spacingAndGlyphs">30</text>
<text x="435.1" y="448.68" text-anchor="end" textLength="8.58" lengthAdjust="spacingAndGlyphs">40</text>
<text x="435.1" y="427.05" text-anchor="end" textLength="8.58" lengthAdjust="spacingAndGlyphs">50</text>
<text x="435.1" y="405.42" text-anchor="end" textLength="8.58" lengthAdjust="spacingAndGlyphs">60</text>
<text x="435.1" y="383.79" text-anchor="end" textLength="8.58" lengthAdjust="spacingAndGlyphs">70</text>
<text x="435.1" y="362.16" text-anchor="end" textLength="8.58" lengthAdjust="spacingAndGlyphs">80</text>
<text x="435.1" y="340.53" text-anchor="end" textLength="8.58" lengthAdjust="spacingAndGlyphs">90</text>
<text x="435.1" y="318.9" text-anchor="end" textLength="12.88" lengthAdjust="spacingAndGlyphs">100</text>
<text x="482.6" y="545.2" text-anchor="middle" textLength="4.29" lengthAdjust="spacingAndGlyphs">2</text>
<text x="574.1" y="545.2" text-anchor="middle" textLength="4.29" lengthAdjust="spacingAndGlyphs">6</text>
<text x="665.9" y="545.2" text-anchor="middle" textLength="8.58" lengthAdjust="spacingAndGlyphs">10</text>
<text x="756.6" y="545.2" text-anchor="middle" textLength="8.58" lengthAdjust="spacingAndGlyphs">12</text>
</g>
<text y="563.6" font-family="Liberation Sans, Noto Sans CJK SC, sans-serif" font-weight="bold" font-size="8.3" fill="#111" stroke="#111" stroke-width="0.3"><tspan x="602.7">Time</tspan><tspan x="618.6">（</tspan><tspan x="627.7">h</tspan><tspan x="632.9">）</tspan></text>
<text transform="translate(416,520.5) rotate(-90)" font-family="Liberation Serif, Times New Roman, serif" font-weight="bold" font-size="13.2" fill="#0a0a0a" stroke="#0a0a0a" stroke-width="0.25"><tspan fill="#fa1590" stroke="#fa1590">Mannose</tspan> accumulative release <tspan dx="1.2">(%</tspan><tspan dx="-2.4"> )</tspan></text>
<rect x="796" y="421.9" width="11.6" height="8.8" fill="#8c8cfc"/>
<text y="430.8" font-family="Liberation Serif, Noto Serif CJK SC, serif" font-weight="bold" font-size="12" fill="#8c8cfc"><tspan x="814.7" textLength="95.3" lengthAdjust="spacing">M-HPMC@GG-2</tspan><tspan x="912.2" font-size="8">：</tspan><tspan x="920.3">1</tspan></text>
<rect x="796" y="438.1" width="11.6" height="8.8" fill="#1198b0"/>
<text y="447" font-family="Liberation Serif, Noto Serif CJK SC, serif" font-weight="bold" font-size="12" fill="#1198b0"><tspan x="814.7" textLength="95.3" lengthAdjust="spacing">M-HPMC@GG-1</tspan><tspan x="912.2" font-size="8">：</tspan><tspan x="920.3">1</tspan></text>
<rect x="796" y="453" width="11.6" height="8.8" fill="#c0c000"/>
<text y="461.7" font-family="Liberation Serif, Noto Serif CJK SC, serif" font-weight="bold" font-size="12" fill="#c0c000"><tspan x="814.7" textLength="95.3" lengthAdjust="spacing">M-HPMC@GG-1</tspan><tspan x="912.2" font-size="8">：</tspan><tspan x="920.3">2</tspan></text>
</svg>
</body></html>
